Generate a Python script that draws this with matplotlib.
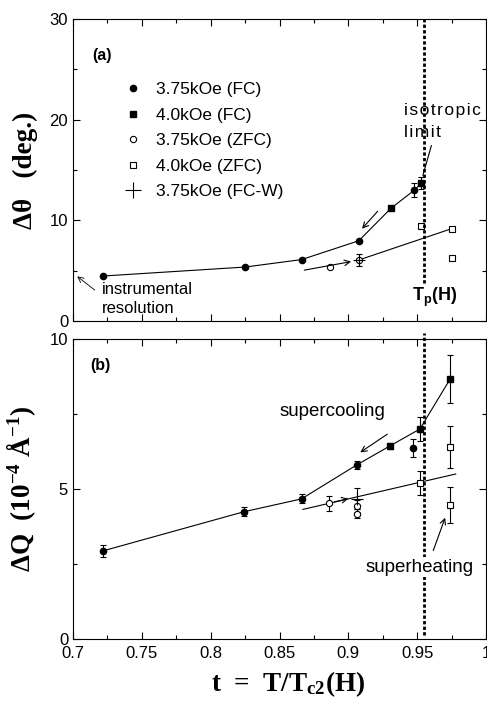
import numpy as np
import matplotlib
matplotlib.use("Agg")
import matplotlib.pyplot as plt
from matplotlib.ticker import MultipleLocator
from matplotlib.lines import Line2D

plt.rcParams['font.family'] = ['Liberation Sans', 'DejaVu Sans']
plt.rcParams['mathtext.default'] = 'regular'

# panel (a): rocking width, degrees
fc375_t_a = [0.722, 0.825, 0.866, 0.9076, 0.948]
fc375_a = [4.47, 5.36, 6.1, 7.97, 13.0]
fc375_err_a = [0, 0, 0, 0, 0.7]
fc40_t_a = [0.931, 0.953]
fc40_a = [11.2, 13.7]
fc40_err_a = [0, 0.6]
zfc375_t_a = [0.887, 0.9076]
zfc375_a = [5.4, 6.06]
zfc40_t_a = [0.953, 0.975, 0.975]
zfc40_a = [9.4, 9.17, 6.3]
fcw_t_a = [0.9076]
fcw_a = [6.06]
fcw_err_a = [0.6]
# guide lines (a)
fc_line_t_a = [0.722, 0.825, 0.866, 0.9076, 0.931, 0.948, 0.953]
fc_line_a = [4.47, 5.36, 6.1, 7.97, 11.2, 13.0, 13.7]
zfc_line_t_a = [0.9076, 0.975]
zfc_line_a = [6.06, 9.17]

# panel (b): radial width, 1e-4 1/A
fc375_t_b = [0.722, 0.824, 0.866, 0.906, 0.947]
fc375_b = [2.94, 4.24, 4.67, 5.8, 6.36]
fc375_err_b = [0.2, 0.15, 0.15, 0.12, 0.3]
fc40_t_b = [0.930, 0.952, 0.974]
fc40_b = [6.43, 7.0, 8.67]
fc40_err_b = [0.1, 0.4, 0.8]
zfc375_t_b = [0.886, 0.906, 0.906]
zfc375_b = [4.52, 4.42, 4.18]
zfc375_err_b = [0.25, 0.2, 0.15]
zfc40_t_b = [0.952, 0.974, 0.974]
zfc40_b = [5.21, 6.39, 4.47]
zfc40_err_b = [0.4, 0.7, 0.6]
fcw_t_b = [0.906]
fcw_b = [4.68]
fcw_err_b = [0.35]
fc_line_t_b = [0.722, 0.824, 0.866, 0.906, 0.930, 0.952, 0.974]
fc_line_b = [2.94, 4.24, 4.67, 5.8, 6.43, 7.0, 8.67]
zfc_line_t_b = [0.867, 0.978]
zfc_line_b = [4.32, 5.5]

t_p = 0.955
xticks = [0.7, 0.75, 0.8, 0.85, 0.9, 0.95, 1.0]
xticklabels = ['0.7', '0.75', '0.8', '0.85', '0.9', '0.95', '1']

serif_bold = dict(family='Liberation Serif', weight='bold', size=19.5)

fig = plt.figure(figsize=(4.87, 7.04), dpi=100)
W, H = 487, 704
axa = fig.add_axes([73 / W, 1 - 321 / H, 413 / W, 302 / H])
axb = fig.add_axes([73 / W, 1 - 639 / H, 413 / W, 300 / H])

ms = 4.5
eb = dict(ecolor='k', elinewidth=0.8, capsize=2.5, capthick=0.8, linestyle='none')


def style_axes(ax, ymax, ymajor, yminor):
    ax.set_xlim(0.7, 1.0)
    ax.set_ylim(0, ymax)
    ax.set_xticks(xticks)
    ax.xaxis.set_minor_locator(MultipleLocator(0.025))
    ax.yaxis.set_major_locator(MultipleLocator(ymajor))
    ax.yaxis.set_minor_locator(MultipleLocator(yminor))
    ax.tick_params(which='both', direction='in', top=True, right=True,
                   labelsize=12, width=0.8)
    ax.tick_params(which='major', length=5)
    ax.tick_params(which='minor', length=3)
    ax.tick_params(axis='x', pad=5)
    for s in ax.spines.values():
        s.set_linewidth(0.8)


# ---- panel (a)
ax = axa
ax.plot(fc_line_t_a, fc_line_a, color='k', lw=0.8)
ax.plot(zfc_line_t_a, zfc_line_a, color='k', lw=0.8)
ax.annotate('', xy=(0.904, 5.95), xytext=(0.866, 5.0),
            arrowprops=dict(arrowstyle='->', lw=0.8, color='k'))
ax.errorbar(fc375_t_a, fc375_a, yerr=fc375_err_a, fmt='o', color='k', ms=ms, **eb)
ax.errorbar(fc40_t_a, fc40_a, yerr=fc40_err_a, fmt='s', color='k', ms=ms + 0.5, **eb)
ax.plot(zfc375_t_a, zfc375_a, 'o', mfc='white', mec='k', ms=ms, mew=0.8)
ax.plot(zfc40_t_a, zfc40_a, 's', mfc='white', mec='k', ms=ms + 0.5, mew=0.8)
ax.errorbar(fcw_t_a, fcw_a, yerr=fcw_err_a, fmt='+', color='k', ms=9, mew=0.8, **eb)
ax.plot([t_p, t_p], [3.8, 30], color='k', lw=2, linestyle=(0, (1.2, 0.8)))
ax.annotate('', xy=(0.9086, 8.96), xytext=(0.9226, 11.1),
            arrowprops=dict(arrowstyle='->', lw=0.8, color='k'))
ax.annotate('', xy=(0.9536, 14.2), xytext=(0.9609, 17.7),
            arrowprops=dict(arrowstyle='-', lw=0.8, color='k'))
ax.text(0.9406, 20.95, 'i\u200as\u200ao\u200at\u200ar\u200ao\u200ap\u200ai\u200ac',
        fontsize=12.5, va='center', ha='left')
ax.text(0.9406, 18.77, 'l\u200ai\u200am\u200ai\u200at', fontsize=12.5, va='center', ha='left')
ax.text(0.9464, 2.3, 'T$_p$(H)', fontsize=13, weight='bold', va='center', ha='left')
ax.annotate('', xy=(0.7015, 4.6), xytext=(0.7174, 2.9),
            arrowprops=dict(arrowstyle='->', lw=0.6, color='k'))
ax.text(0.721, 3.08, 'instrumental', fontsize=12, va='center', ha='left')
ax.text(0.721, 1.29, 'resolution', fontsize=12, va='center', ha='left')
ax.text(0.7138, 26.4, '(a)', fontsize=11.5, weight='bold', va='center', ha='left')

handles = [
    Line2D([], [], marker='o', color='k', ls='none', ms=ms),
    Line2D([], [], marker='s', color='k', ls='none', ms=ms + 0.5),
    Line2D([], [], marker='o', mfc='white', mec='k', ls='none', ms=ms, mew=0.8),
    Line2D([], [], marker='s', mfc='white', mec='k', ls='none', ms=ms + 0.5, mew=0.8),
    Line2D([], [], marker='+', color='k', ls='none', ms=11, mew=0.8),
]
labels = ['3.75kOe (FC)', '4.0kOe (FC)', '3.75kOe (ZFC)', '4.0kOe (ZFC)', '3.75kOe (FC-W)']
ax.legend(handles, labels, loc='upper left', bbox_to_anchor=(0.098, 0.82),
          frameon=False, fontsize=12.5, handlelength=1.2, handletextpad=0.75,
          labelspacing=0.6, borderpad=0)
style_axes(ax, 30, 10, 5)
ax.set_xticklabels([])
ax.set_ylabel('Δθ   (deg.)', fontdict=serif_bold)
ax.yaxis.set_label_coords(-0.085, 0.5)

# ---- panel (b)
ax = axb
ax.plot(fc_line_t_b, fc_line_b, color='k', lw=0.8)
ax.plot(zfc_line_t_b, zfc_line_b, color='k', lw=0.8)
ax.annotate('', xy=(0.902, 4.7), xytext=(0.888, 4.55),
            arrowprops=dict(arrowstyle='->', lw=0.8, color='k'))
ax.errorbar(fc375_t_b, fc375_b, yerr=fc375_err_b, fmt='o', color='k', ms=ms, **eb)
ax.errorbar(fc40_t_b, fc40_b, yerr=fc40_err_b, fmt='s', color='k', ms=ms + 0.5, **eb)
ax.errorbar(zfc375_t_b, zfc375_b, yerr=zfc375_err_b, fmt='o', mfc='white', mec='k',
            ms=ms, mew=0.8, **eb)
ax.errorbar(zfc40_t_b, zfc40_b, yerr=zfc40_err_b, fmt='s', mfc='white', mec='k',
            ms=ms + 0.5, mew=0.8, **eb)
ax.errorbar(fcw_t_b, fcw_b, yerr=fcw_err_b, fmt='+', color='k', ms=9, mew=0.8, **eb)
ax.plot([t_p, t_p], [0.15, 10.2], color='k', lw=2, linestyle=(0, (1.2, 0.8)),
        clip_on=False, zorder=1)
ax.text(0.8884, 7.57, 'supercooling', fontsize=13.5, ha='center', va='center')
ax.annotate('', xy=(0.907, 6.17), xytext=(0.930, 6.88),
            arrowprops=dict(arrowstyle='->', lw=0.8, color='k'))
ax.text(0.9514, 2.4, 'superheating', fontsize=13.5, ha='center', va='center',
        bbox=dict(facecolor='white', edgecolor='none', pad=1), zorder=5)
ax.annotate('', xy=(0.971, 4.13), xytext=(0.961, 2.86),
            arrowprops=dict(arrowstyle='->', lw=0.8, color='k'))
ax.text(0.7123, 9.13, '(b)', fontsize=11.5, weight='bold', va='center', ha='left')
style_axes(ax, 10, 5, 2.5)
ax.set_xticklabels(xticklabels)
ax.set_ylabel('ΔQ  (10$^{-4}$ Å$^{-1}$)', fontdict=serif_bold)
ax.yaxis.set_label_coords(-0.085, 0.5)
ax.set_xlabel('t  =  T/T$_{c2}$(H)', fontdict=serif_bold)
ax.xaxis.set_label_coords(0.52, -0.1)

fig.savefig('out.png', dpi=100)
